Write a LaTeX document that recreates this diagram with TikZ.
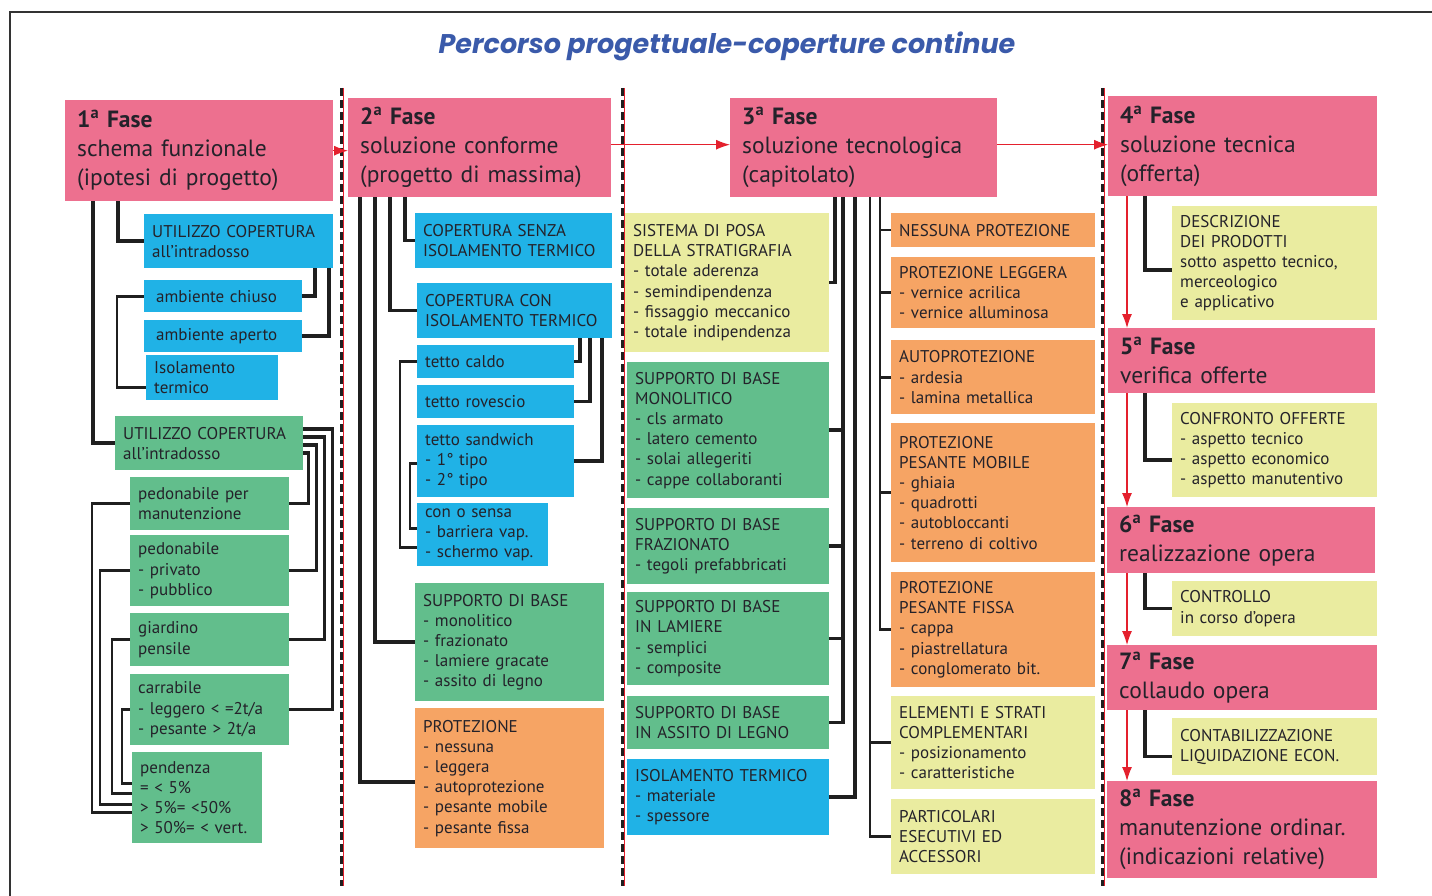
\documentclass[tikz,border=0pt]{standalone}
\usepackage{fontspec}
\setmainfont{PT Sans}
\newfontfamily\titlefont{Poppins}
\usetikzlibrary{arrows.meta}
\definecolor{pinkc}{RGB}{237,112,143}
\definecolor{bluec}{RGB}{32,178,230}
\definecolor{greenc}{RGB}{98,190,140}
\definecolor{orangec}{RGB}{246,164,100}
\definecolor{yellowc}{RGB}{234,236,160}
\definecolor{titleblue}{RGB}{58,90,170}
\definecolor{redc}{RGB}{228,32,45}
\definecolor{textc}{RGB}{36,34,42}
\tikzset{
 box/.style={anchor=north west, inner xsep=8pt, inner ysep=0pt, align=left, font=\fontsize{17}{20.2}\selectfont, text=textc},
 phase/.style={box, fill=pinkc, inner xsep=12pt, font=\fontsize{23.5}{29}\selectfont},
 conn/.style={draw=black!88, line width=3.5pt},
 thinconn/.style={draw=black!88, line width=2.6pt},
 flow/.style={draw=redc, line width=1.1pt, -{Latex[length=14pt,width=10pt]}},
 sep/.style={draw=black!88, line width=3pt, dash pattern=on 8pt off 4pt},
 sepred/.style={draw=redc, line width=0.7pt},
 frame/.style={draw=black!80, line width=1.5pt},
 title/.style={font=\titlefont\fontsize{27}{34}\selectfont\bfseries\itshape, text=titleblue}
}
\newcommand{\mybox}[7]{\pgfmathsetmacro{\mybxtw}{#4-16}\node[box, fill=#6, minimum width=#4pt, minimum height=#5pt, text width=\mybxtw pt] (#1) at (#2,#3) {#7};}
\newcommand{\myphase}[6]{\pgfmathsetmacro{\mybxtw}{#4-24}\node[phase, minimum width=#4pt, minimum height=#5pt, text width=\mybxtw pt] (#1) at (#2,#3) {#6};}
\newcommand{\fase}[1]{\textbf{#1\textsuperscript{a} Fase}}
\begin{document}
\begin{tikzpicture}[x=1pt,y=-1pt]
\useasboundingbox (0,0) rectangle (1432,896);
\draw[frame] (1432,12) -- (10,12) -- (10,896);
\node[title] (title) at (727,46) {Percorso progettuale-coperture continue};
% separators
\foreach \sx in {341,622,1102}{
  \draw[sepred] (\sx+2.5,88) -- (\sx+2.5,886);
  \draw[sep] (\sx,88) -- (\sx,886);
}
% ---------- column 1
\myphase{p1}{65}{100}{268}{101}{\fase{1}\\schema funzionale\\(ipotesi di progetto)}
\mybox{c1a}{144}{214}{189}{54}{bluec}{UTILIZZO COPERTURA\\all’intradosso}
\mybox{c1b}{144}{280}{158}{32}{bluec}{\hspace{4pt}ambiente chiuso}
\mybox{c1c}{144}{320}{158}{32}{bluec}{\hspace{4pt}ambiente aperto}
\mybox{c1d}{146}{355}{132}{45}{bluec}{Isolamento\\termico}
\mybox{c1e}{115}{416}{188}{54}{greenc}{UTILIZZO COPERTURA\\all’intradosso}
\mybox{c1f}{130}{477}{159}{53}{greenc}{pedonabile per\\manutenzione}
\mybox{c1g}{130}{535}{159}{71}{greenc}{pedonabile\\- privato\\- pubblico}
\mybox{c1h}{130}{613}{159}{53}{greenc}{giardino\\pensile}
\mybox{c1i}{130}{674}{159}{71}{greenc}{carrabile\\- leggero < =2t/a\\- pesante > 2t/a}
\mybox{c1j}{132}{752}{130}{91}{greenc}{pendenza\\= < 5\%\\> 5\%= <50\%\\> 50\%= < vert.}
\draw[conn] ([xshift=28pt]p1.south west) |- (c1e.west);
\draw[conn] ([xshift=53pt]p1.south west) |- (c1a.west);
\draw[conn] ([xshift=171pt]c1a.south west) |- (c1b.east);
\draw[conn] ([xshift=185pt]c1a.south west) |- (c1c.east);
\draw[thinconn] (c1b.west) -- ++(-27,0) |- ([yshift=-10pt]c1d.west);
\draw[conn] ([yshift=-13pt]c1e.north east) -- ++(29,0) |- (c1i.east);
\draw[conn] ([yshift=-21pt]c1e.north east) -- ++(21,0) |- (c1h.east);
\draw[conn] ([yshift=-29pt]c1e.north east) -- ++(13,0) |- (c1g.east);
\draw[conn] ([yshift=-37pt]c1e.north east) -- ++(5,0) |- (c1f.east);
\draw[thinconn] (c1f.west) -- ++(-38,0) |- ([yshift=-15pt]c1j.west);
\draw[thinconn] (c1g.west) -- ++(-30,0) |- ([yshift=-7pt]c1j.west);
\draw[thinconn] (c1h.west) -- ++(-18,0) |- ([yshift=4pt]c1j.west);
\draw[thinconn] (c1i.west) -- ++(-8,0) |- ([yshift=14pt]c1j.west);
% ---------- column 2
\myphase{p2}{348}{98}{263}{99}{\fase{2}\\soluzione conforme\\(progetto di massima)}
\mybox{c2a}{415}{213}{197}{55}{bluec}{COPERTURA SENZA\\ISOLAMENTO TERMICO}
\mybox{c2b}{417}{283}{195}{55}{bluec}{COPERTURA CON\\ISOLAMENTO TERMICO}
\mybox{c2c}{417}{345}{157}{33}{bluec}{tetto caldo}
\mybox{c2d}{417}{385}{157}{33}{bluec}{tetto rovescio}
\mybox{c2e}{417}{425}{157}{72}{bluec}{tetto sandwich\\- 1° tipo\\- 2° tipo}
\mybox{c2f}{417}{503}{131}{63}{bluec}{con o sensa\\- barriera vap.\\- schermo vap.}
\mybox{c2g}{415}{583}{189}{118}{greenc}{SUPPORTO DI BASE\\- monolitico\\- frazionato\\- lamiere gracate\\- assito di legno}
\mybox{c2h}{415}{708}{189}{140}{orangec}{PROTEZIONE\\- nessuna\\- leggera\\- autoprotezione\\- pesante mobile\\- pesante fissa}
\draw[conn] ([xshift=57pt]p2.south west) |- (c2a.west);
\draw[conn] ([xshift=42pt]p2.south west) |- (c2b.west);
\draw[conn] ([xshift=27pt]p2.south west) |- (c2g.west);
\draw[conn] ([xshift=12pt]p2.south west) |- ([yshift=-4pt]c2h.west);
\draw[conn] ([xshift=163pt]c2b.south west) |- (c2c.east);
\draw[conn] ([xshift=173pt]c2b.south west) |- (c2d.east);
\draw[conn] ([xshift=185pt]c2b.south west) |- (c2e.east);
\draw[thinconn] (c2c.west) -- ++(-17,0) |- ([yshift=-13pt]c2f.west);
\draw[thinconn] ([yshift=-2pt]c2e.west) -- ++(-7,0) |- ([yshift=6pt]c2f.west);
% ---------- column 3
\myphase{p3}{730}{98}{267}{99}{\fase{3}\\soluzione tecnologica\\(capitolato)}
\mybox{c3a}{625}{213}{204}{139}{yellowc}{SISTEMA DI POSA\\DELLA STRATIGRAFIA\\- totale aderenza\\- semindipendenza\\- fissaggio meccanico\\- totale indipendenza}
\mybox{c3b}{627}{362}{202}{136}{greenc}{SUPPORTO DI BASE\\MONOLITICO\\- cls armato\\- latero cemento\\- solai allegeriti\\- cappe collaboranti}
\mybox{c3c}{627}{508}{202}{76}{greenc}{SUPPORTO DI BASE\\FRAZIONATO\\- tegoli prefabbricati}
\mybox{c3d}{627}{592}{202}{93}{greenc}{SUPPORTO DI BASE\\IN LAMIERE\\- semplici\\- composite}
\mybox{c3e}{627}{696}{202}{53}{greenc}{SUPPORTO DI BASE\\IN ASSITO DI LEGNO}
\mybox{c3f}{627}{759}{202}{76}{bluec}{ISOLAMENTO TERMICO\\- materiale\\- spessore}
\mybox{c3g}{891}{213}{204}{34}{orangec}{NESSUNA PROTEZIONE}
\mybox{c3h}{891}{257}{204}{71}{orangec}{PROTEZIONE LEGGERA\\- vernice acrilica\\- vernice alluminosa}
\mybox{c3i}{891}{340}{204}{74}{orangec}{AUTOPROTEZIONE\\- ardesia\\- lamina metallica}
\mybox{c3j}{891}{423}{204}{139}{orangec}{PROTEZIONE\\PESANTE MOBILE\\- ghiaia\\- quadrotti\\- autobloccanti\\- terreno di coltivo}
\mybox{c3k}{891}{572}{204}{115}{orangec}{PROTEZIONE\\PESANTE FISSA\\- cappa\\- piastrellatura\\- conglomerato bit.}
\mybox{c3l}{891}{696}{204}{93}{yellowc}{ELEMENTI E STRATI\\COMPLEMENTARI\\- posizionamento\\- caratteristiche}
\mybox{c3m}{891}{799}{204}{75}{yellowc}{PARTICOLARI\\ESECUTIVI ED\\ACCESSORI}
\coordinate (t3a) at ([xshift=113pt]p3.south west);
\coordinate (t3b) at ([xshift=150pt]p3.south west);
\coordinate (t3c) at ([xshift=140pt]p3.south west);
\draw[conn] ([xshift=105pt]p3.south west) |- (c3a.east);
\draw[conn] (t3a) |- (c3e.east);
\draw[conn] (c3b.east) -- (c3b.east -| t3a);
\draw[conn] (c3c.east) -- (c3c.east -| t3a);
\draw[conn] (c3d.east) -- (c3d.east -| t3a);
\draw[conn] ([xshift=125pt]p3.south west) |- (c3f.east);
\draw[thinconn] (t3b) |- (c3k.west);
\draw[thinconn] (c3g.west) -- (c3g.west -| t3b);
\draw[thinconn] (c3h.west) -- (c3h.west -| t3b);
\draw[thinconn] (c3i.west) -- (c3i.west -| t3b);
\draw[thinconn] (c3j.west) -- (c3j.west -| t3b);
\draw[thinconn] (t3c) |- (c3m.west);
\draw[thinconn] (c3l.west) -- (c3l.west -| t3c);
% ---------- column 4
\myphase{p4}{1108}{96}{269}{100}{\fase{4}\\soluzione tecnica\\(offerta)}
\mybox{c4a}{1172}{206}{205}{114}{yellowc}{DESCRIZIONE\\DEI PRODOTTI\\sotto aspetto tecnico,\\merceologico\\e applicativo}
\myphase{p5}{1108}{328}{267}{65}{\fase{5}\\verifica offerte}
\mybox{c4b}{1172}{403}{205}{94}{yellowc}{CONFRONTO OFFERTE\\- aspetto tecnico\\- aspetto economico\\- aspetto manutentivo}
\myphase{p6}{1107}{507}{268}{66}{\fase{6}\\realizzazione opera}
\mybox{c4c}{1172}{581}{205}{55}{yellowc}{CONTROLLO\\in corso d’opera}
\myphase{p7}{1107}{645}{270}{65}{\fase{7}\\collaudo opera}
\mybox{c4d}{1172}{718}{205}{57}{yellowc}{CONTABILIZZAZIONE\\LIQUIDAZIONE ECON.}
\myphase{p8}{1107}{781}{270}{97}{\fase{8}\\manutenzione ordinar.\\(indicazioni relative)}
\draw[conn] ([xshift=37pt]p4.south west) |- ([yshift=-7pt]c4a.west);
\draw[conn] ([xshift=37pt]p5.south west) |- ([yshift=-10pt]c4b.west);
\draw[conn] ([xshift=38pt]p6.south west) |- (c4c.west);
\draw[conn] ([xshift=38pt]p7.south west) |- ([yshift=-10pt]c4d.west);
% ---------- flow arrows
\draw[flow] (p1.east) -- (p1.east -| p2.west);
\draw[flow] ([yshift=3pt]p2.east) -- ([yshift=3pt]p2.east -| p3.west);
\draw[flow] ([yshift=3pt]p3.east) -- ([yshift=3pt]p3.east -| p4.west);
\coordinate (r4) at ([xshift=19pt]p4.south west);
\coordinate (r5) at ([xshift=19pt]p5.south west);
\coordinate (r6) at ([xshift=20pt]p6.south west);
\coordinate (r7) at ([xshift=20pt]p7.south west);
\draw[flow] (r4) -- (r4 |- p5.north);
\draw[flow] (r5) -- (r5 |- p6.north);
\draw[flow] (r6) -- (r6 |- p7.north);
\draw[flow] (r7) -- (r7 |- p8.north);
\end{tikzpicture}
\end{document}
